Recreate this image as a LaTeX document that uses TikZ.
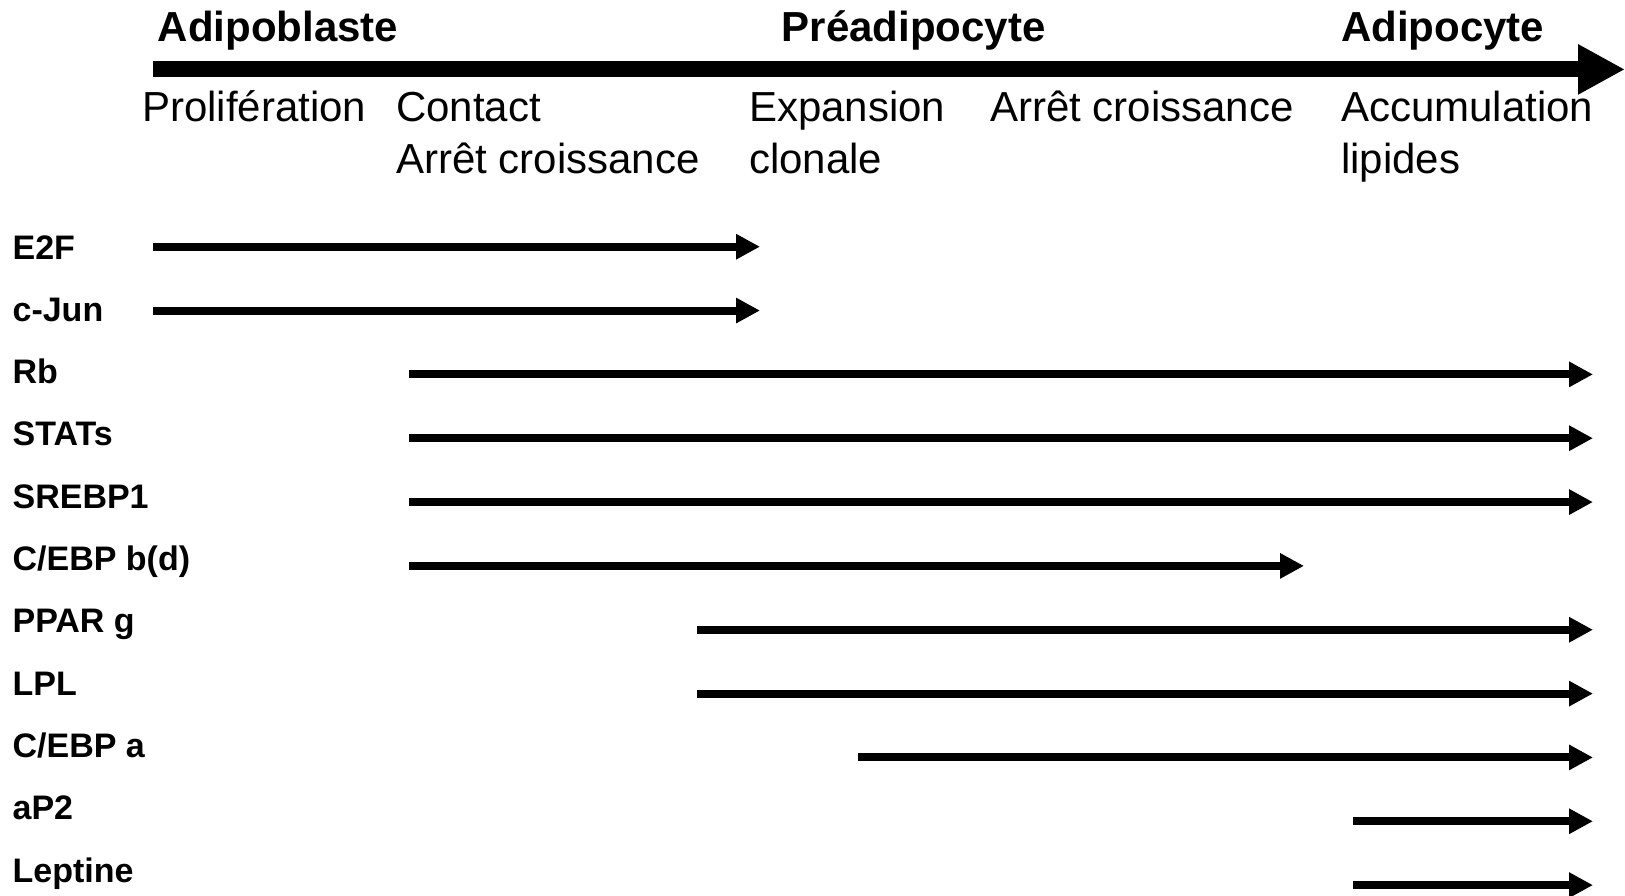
\documentclass[tikz,border=0pt]{standalone}
\usepackage{fontspec}
\setmainfont{Liberation Sans}
\usetikzlibrary{arrows.meta, positioning}

\begin{document}
\begin{tikzpicture}[x=1pt, y=-1pt,
    etape/.style={font=\fontsize{42}{52}\selectfont\bfseries, anchor=base west, inner sep=0pt},
    phase/.style={font=\fontsize{42}{52}\selectfont, anchor=base west, inner sep=0pt, align=left},
    gene/.style={font=\fontsize{34}{40}\selectfont\bfseries, anchor=base west, inner sep=0pt},
    expr/.style={-{Triangle[length=24pt, width=24pt]}, line width=8pt}]
    \useasboundingbox (0,0) rectangle (1625,895);

    % Axe de la différenciation
    \coordinate (axedeb) at (153,69.4);
    \coordinate (axefin) at (1625,69.4);
    \draw[-{Triangle[length=47pt, width=47pt]}, line width=16pt] (axedeb) -- (axefin);
    \node[etape] (adipoblaste) at (157.5,41.5) {Adipoblaste};
    \node[etape] (preadipocyte) at (781.5,41.5) {Préadipocyte};
    \node[etape] (adipocyte) at (1341,41.5) {Adipocyte};

    % Phases (ligne de base = dernière ligne)
    \node[phase] (prolif) at (142,121) {Prolifération};
    \node[phase] (contact) at (396,173) {Contact\\Arrêt croissance};
    \node[phase] (expansion) at (749,173) {Expansion\\clonale};
    \node[phase] (arret) at (990,121) {Arrêt croissance};
    \node[phase] (accumul) at (1341,173) {Accumulation\\lipides};

    % Expression des facteurs
    \foreach \nom/\deb/\fin [count=\i from 0] in {E2F/153/760, c-Jun/153/760,
        Rb/409/1593, STATs/409/1593, SREBP1/409/1593, {C/EBP b(d)}/409/1304,
        PPAR g/697/1593, LPL/697/1593, {C/EBP a}/858/1593, aP2/1353/1593,
        Leptine/1353/1593} {
        \node[gene] (gene\i) at (12.4,259+62.3*\i) {\nom};
        \coordinate (d\i) at (\deb,246.7+63.84*\i);
        \coordinate (f\i) at (\fin,246.7+63.84*\i);
        \draw[expr] (d\i) -- (f\i);
    }

\end{tikzpicture}
\end{document}
